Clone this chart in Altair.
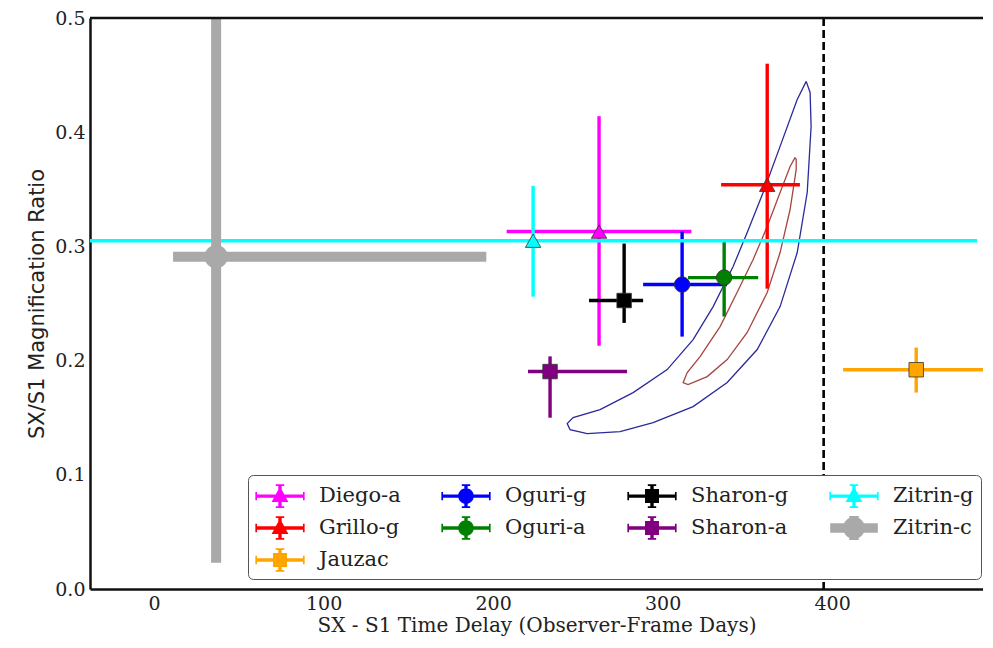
import altair as alt
import pandas as pd

# ---------------- data ----------------
names = ["Diego-a", "Grillo-g", "Jauzac", "Oguri-g", "Oguri-a",
         "Sharon-g", "Sharon-a", "Zitrin-g", "Zitrin-c"]
delay = [262.5, 361.7, 449.6, 311.5, 336.3, 277.3, 233.6, 223.6, 36.6]
delay_lo = [208.0, 334.5, 406.5, 288.5, 315.0, 256.6, 220.6, -60.0, 11.2]
delay_hi = [317.0, 381.0, 495.0, 338.0, 356.4, 288.5, 279.0, 485.5, 196.0]
ratio = [0.313, 0.354, 0.192, 0.2666, 0.2727, 0.2526, 0.1904, 0.305, 0.291]
ratio_lo = [0.213, 0.263, 0.172, 0.221, 0.2386, 0.233, 0.150, 0.256, 0.023]
ratio_hi = [0.414, 0.460, 0.2114, 0.313, 0.306, 0.3025, 0.2037, 0.353, 0.62]
markers = ["triangle", "triangle", "square", "circle", "circle",
           "square", "square", "triangle", "bigcircle"]
colors = ["#ff00ff", "#ff0000", "#ffa500", "#0000ff", "#008000",
          "#000000", "#800080", "#00ffff", "#a9a9a9"]

# legend is 4 columns wide, filled column by column in the reference
legend_order = ["Diego-a", "Oguri-g", "Sharon-g", "Zitrin-g",
                "Grillo-g", "Oguri-a", "Sharon-a", "Zitrin-c", "Jauzac"]

outer_x = [384.7, 379.4, 369.3, 359.3, 349.9, 341.6, 329.8, 318.0, 302.7, 282.6,
           263.1, 247.2, 243.7, 245.4, 255.5, 274.9, 294.4, 318.0, 338.1, 355.8,
           369.3, 379.4, 385.3, 387.6, 387.0, 384.7]
outer_y = [0.4445, 0.4287, 0.3876, 0.3472, 0.3122, 0.2824, 0.2473, 0.2184, 0.1921, 0.1720,
           0.1571, 0.1501, 0.1448, 0.1396, 0.1361, 0.1378, 0.1457, 0.1597, 0.1808, 0.2097,
           0.2473, 0.2946, 0.3472, 0.4050, 0.4348, 0.4445]
inner_x = [378.2, 375.2, 369.3, 361.7, 353.4, 343.9, 333.9, 322.1, 314.5, 312.1,
           315.0, 326.3, 338.1, 349.9, 361.7, 369.3, 375.2, 378.8, 378.8, 378.2]
inner_y = [0.3779, 0.3700, 0.3472, 0.3174, 0.2885, 0.2596, 0.2298, 0.2035, 0.1895, 0.1807,
           0.1790, 0.1860, 0.2009, 0.2246, 0.2596, 0.2946, 0.3323, 0.3674, 0.3761, 0.3779]

limit_delay = [395.0]
x_domain = [-37.8, 489.0]
y_domain = [0.0, 0.5]
y_ticks = [0.0, 0.1, 0.2, 0.3, 0.4, 0.5]
x_ticks = [0, 100, 200, 300, 400]

SERIF = "DejaVu Serif"
SANS = "DejaVu Sans"

# ---------------- tables ----------------
pts = pd.DataFrame({"name": names, "x": delay, "y": ratio, "marker": markers})
seg_rows = []
for i, n in enumerate(names):
    seg_rows.append({"name": n, "o": 2 * i, "x": delay[i], "x2": delay[i],
                     "y": ratio_lo[i], "y2": ratio_hi[i]})
    seg_rows.append({"name": n, "o": 2 * i + 1, "x": delay_lo[i], "x2": delay_hi[i],
                     "y": ratio[i], "y2": ratio[i]})
segs = pd.DataFrame(seg_rows)

outer_df = pd.DataFrame({"i": range(len(outer_x)), "x": outer_x, "y": outer_y})
inner_df = pd.DataFrame({"i": range(len(inner_x)), "x": inner_x, "y": inner_y})
limit_df = pd.DataFrame({"x": limit_delay})

color_of = dict(zip(names, colors))
color_scale = alt.Scale(domain=legend_order, range=[color_of[n] for n in legend_order])

xs = alt.Scale(domain=x_domain, nice=False, zero=False)
ys = alt.Scale(domain=y_domain, nice=False, zero=False)
X_AX = alt.Axis(values=x_ticks, title="SX - S1 Time Delay (Observer-Frame Days)")
Y_AX = alt.Axis(values=y_ticks, format=".1f", title="SX/S1 Magnification Ratio",
                titleFont=SANS, titleFontSize=21)


def X(field="x"):
    return alt.X(f"{field}:Q", scale=xs, axis=X_AX)


def Y(field="y"):
    return alt.Y(f"{field}:Q", scale=ys, axis=Y_AX)


# ---------------- legend symbols (errorbar look) ----------------
def rect(x0, y0, x1, y1):
    return f"M{x0},{y0}H{x1}V{y1}H{x0}Z"


def circ(r):
    return f"M{r},0A{r},{r} 0 1,1 {-r},0A{r},{r} 0 1,1 {r},0Z"


def bars(t=0.12, hx=1.7, vy=0.78, cap=True):
    p = rect(-hx, -t, hx, t) + rect(-t, -vy, t, vy)
    if cap:
        p += rect(-0.3, -vy - 0.06, 0.3, -vy + 0.06) + rect(-0.3, vy - 0.06, 0.3, vy + 0.06)
        p += rect(-hx - 0.06, -0.3, -hx + 0.06, 0.3) + rect(hx - 0.06, -0.3, hx + 0.06, 0.3)
    return p


marker_path = {
    "triangle": "M0,-0.68L0.6,0.42L-0.6,0.42Z",
    "circle": circ(0.56),
    "square": rect(-0.5, -0.5, 0.5, 0.5),
}
marker_of = dict(zip(names, markers))


def legend_path(n):
    m = marker_of[n]
    if m == "bigcircle":
        return bars(t=0.34, hx=1.7, vy=0.85, cap=False) + circ(0.78)
    return bars() + marker_path[m]


shape_scale = alt.Scale(domain=legend_order, range=[legend_path(n) for n in legend_order])

LEG = alt.Legend(
    title=None, orient="none", legendX=158, legendY=457, columns=4,
    direction="horizontal",
    symbolSize=784, symbolStrokeWidth=0, symbolOffset=11, labelOffset=25,
    labelFont=SERIF, labelFontSize=21, labelColor="#222222", labelLimit=300,
    padding=7, rowPadding=6, columnPadding=40,
    fillColor="white", strokeColor="#555555", cornerRadius=5,
)


def C():
    return alt.Color("name:N", scale=color_scale, legend=LEG)


# ---------------- layers ----------------
outer_layer = alt.Chart(outer_df).mark_line(
    strokeWidth=1.3, color="#2a2a9c", clip=True
).encode(x=X(), y=Y(), order="i:Q")
inner_layer = alt.Chart(inner_df).mark_line(
    strokeWidth=1.3, color="#a6453d", clip=True
).encode(x=X(), y=Y(), order="i:Q")

limit_layer = alt.Chart(limit_df).mark_rule(
    color="black", strokeWidth=2.6, strokeDash=[8, 4]
).encode(x=X())

thin_seg_layer = alt.Chart(segs).transform_filter(
    alt.datum.name != "Zitrin-c"
).mark_rule(clip=True, strokeWidth=3.4).encode(
    x=X(), x2="x2:Q", y=Y(), y2="y2:Q", color=C(), order="o:Q",
)
thick_seg_layer = alt.Chart(segs).transform_filter(
    alt.datum.name == "Zitrin-c"
).mark_rule(clip=True, strokeWidth=10).encode(
    x=X(), x2="x2:Q", y=Y(), y2="y2:Q", color=C(), order="o:Q",
)


def point_layer(kind, shape, size, stroke="#333333"):
    return alt.Chart(pts).transform_filter(
        alt.datum.marker == kind
    ).mark_point(filled=True, opacity=1, shape=shape, size=size, stroke=stroke,
                 strokeWidth=0.8).encode(x=X(), y=Y(), color=C())


tri_layer = point_layer("triangle", "triangle-up", 240)
circ_layer = point_layer("circle", "circle", 240)
sq_layer = point_layer("square", "square", 210)
big_layer = point_layer("bigcircle", "circle", 520, stroke="#a9a9a9")

legend_layer = alt.Chart(pts).transform_filter("false").mark_point(
    filled=True, opacity=1
).encode(
    x=X(), y=Y(), color=C(),
    shape=alt.Shape("name:N", scale=shape_scale, legend=LEG),
)

top_df = pd.DataFrame({"x": [x_domain[0]], "x2": [x_domain[1]], "y": [y_domain[1]]})
top_layer = alt.Chart(top_df).mark_rule(color="#111111", strokeWidth=2.5).encode(
    x=X(), x2="x2:Q", y=Y()
)

chart = alt.layer(
    outer_layer, inner_layer, limit_layer, thin_seg_layer, thick_seg_layer,
    tri_layer, circ_layer, sq_layer, big_layer, legend_layer, top_layer
).properties(
    width=893, height=571,
    autosize=alt.AutoSizeParams(type="none"),
    padding={"left": 82, "top": 10, "right": 0, "bottom": 50},
    background="white",
).configure_view(stroke=None).configure_axis(
    grid=False, ticks=False, domainColor="#111111", domainWidth=2.5,
    labelFont=SERIF, labelFontSize=19, labelColor="#222222",
    titleFont=SERIF, titleFontSize=20, titleFontWeight="normal", titleColor="#222222",
).configure_axisX(labelPadding=5, titlePadding=2).configure_axisY(
    labelPadding=5, titlePadding=7
)

chart.save("out.html", embed_options={"renderer": "svg", "actions": False})
